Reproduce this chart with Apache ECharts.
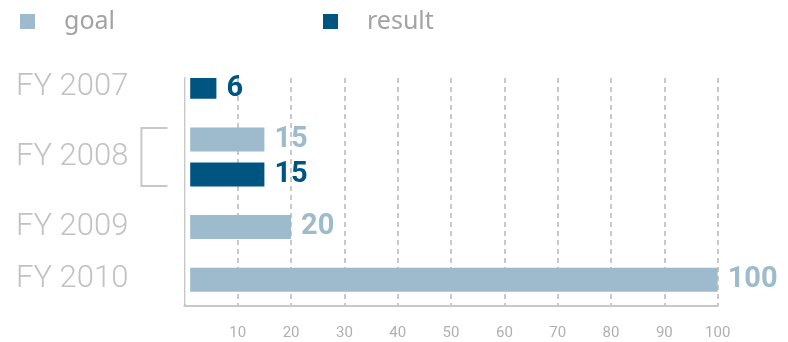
<!DOCTYPE html>
<html>
<head>
<meta charset="utf-8">
<script src="https://cdn.jsdelivr.net/npm/echarts@6/dist/echarts.min.js"></script>
<style>
html,body{margin:0;padding:0;background:#fff;}
#c{width:788px;height:342px;}
</style>
</head>
<body>
<div id="c"></div>
<script>
// ---- data ----
const years = ['FY 2007', 'FY 2008', 'FY 2009', 'FY 2010'];
const goal = [null, 15, 20, 100];
const result = [6, 15, null, null];
const seriesNames = ['goal', 'result'];
const xMin = 0, xMax = 100, xStep = 10;

const colGoal = '#9dbbcc';
const colResult = '#005480';

// ---- build rows (bars + spacer rows) ----
const cats = [], goalData = [], resultData = [];
let sp = 0;
function spacer(label) { cats.push(label || ('_s' + (sp++))); goalData.push('-'); resultData.push('-'); }
const groupRows = [];
years.forEach((y, i) => {
  if (i > 0) { spacer(); spacer(); }
  const members = [];
  if (goal[i] != null) members.push(['g', goal[i]]);
  if (result[i] != null) members.push(['r', result[i]]);
  const idxs = [];
  if (members.length === 1) {
    cats.push(y);
    goalData.push(members[0][0] === 'g' ? members[0][1] : '-');
    resultData.push(members[0][0] === 'r' ? members[0][1] : '-');
    idxs.push(cats.length - 1);
  } else {
    members.forEach((m, j) => {
      if (j > 0) spacer(y);
      cats.push('_b' + (sp++));
      goalData.push(m[0] === 'g' ? m[1] : '-');
      resultData.push(m[0] === 'r' ? m[1] : '-');
      idxs.push(cats.length - 1);
    });
  }
  groupRows.push(idxs);
});
spacer();

const FONT = 'Roboto, "DejaVu Sans", sans-serif';
const chart = echarts.init(document.getElementById('c'));
const barLabel = (color) => ({
  show: true, position: 'right', distance: 10,
  color: color, fontSize: 29, fontWeight: 'bold', fontFamily: FONT
});
const GTOP = 78, GH = 228;
chart.setOption({
  animation: false,
  backgroundColor: '#ffffff',
  legend: {
    data: seriesNames, left: 20, top: 9, padding: 0, icon: 'rect',
    itemWidth: 15, itemHeight: 15, itemGap: 208,
    textStyle: { fontSize: 25, color: '#a3a3a3', fontFamily: '"Noto Sans", sans-serif', fontStyle: 'normal', fontWeight: 'normal', padding: [0, 0, 0, 24] }
  },
  grid: { left: 184.4, right: 70.3, top: GTOP, height: GH, containLabel: false },
  xAxis: {
    type: 'value', min: xMin, max: xMax, interval: xStep,
    axisLine: { show: true, lineStyle: { color: '#c8c8c8', width: 2 } },
    axisTick: { show: false },
    splitLine: { show: true, lineStyle: { color: '#b8b8b8', width: 1.5, type: [5, 4] } },
    axisLabel: {
      margin: 20, color: '#b0b0b0', fontSize: 15, fontFamily: FONT,
      formatter: v => v === 0 ? '' : String(v)
    }
  },
  yAxis: {
    type: 'category', inverse: true, data: cats, z: 5,
    axisLine: { show: true, lineStyle: { color: '#c8c8c8', width: 2 } },
    axisTick: { show: false },
    splitLine: { show: false },
    axisLabel: {
      interval: 0, margin: 56, color: '#c2c2c2', fontSize: 31, fontWeight: 300, fontFamily: FONT,
      formatter: v => v.charAt(0) === '_' ? '' : v
    }
  },
  series: [
    { name: 'goal', type: 'bar', data: goalData, barWidth: 24, barGap: '-100%',
      itemStyle: { color: colGoal }, label: barLabel(colGoal) },
    { name: 'result', type: 'bar', data: resultData, barWidth: 24, barGap: '-100%',
      itemStyle: { color: colResult }, label: barLabel(colResult) }
  ]
});

// decorations: bracket for multi-bar group, small gap between axis and bars
const x0 = chart.convertToPixel({ gridIndex: 0 }, [0, 0])[0];
const graphics = [];
groupRows.forEach(idxs => {
  if (idxs.length > 1) {
    const yTop = chart.convertToPixel({ gridIndex: 0 }, [0, idxs[0]])[1] - 11.5;
    const yBot = chart.convertToPixel({ gridIndex: 0 }, [0, idxs[idxs.length - 1]])[1] + 11.5;
    graphics.push({
      type: 'polyline', z: 10,
      shape: { points: [[x0 - 17, yTop], [x0 - 43, yTop], [x0 - 43, yBot], [x0 - 17, yBot]] },
      style: { stroke: '#c8c8c8', lineWidth: 2, fill: null }
    });
  }
});
graphics.push({ type: 'rect', z: 100, shape: { x: x0 + 1, y: GTOP, width: 4.8, height: GH - 2 }, style: { fill: '#ffffff' } });
chart.setOption({ graphic: graphics });
</script>
</body>
</html>
